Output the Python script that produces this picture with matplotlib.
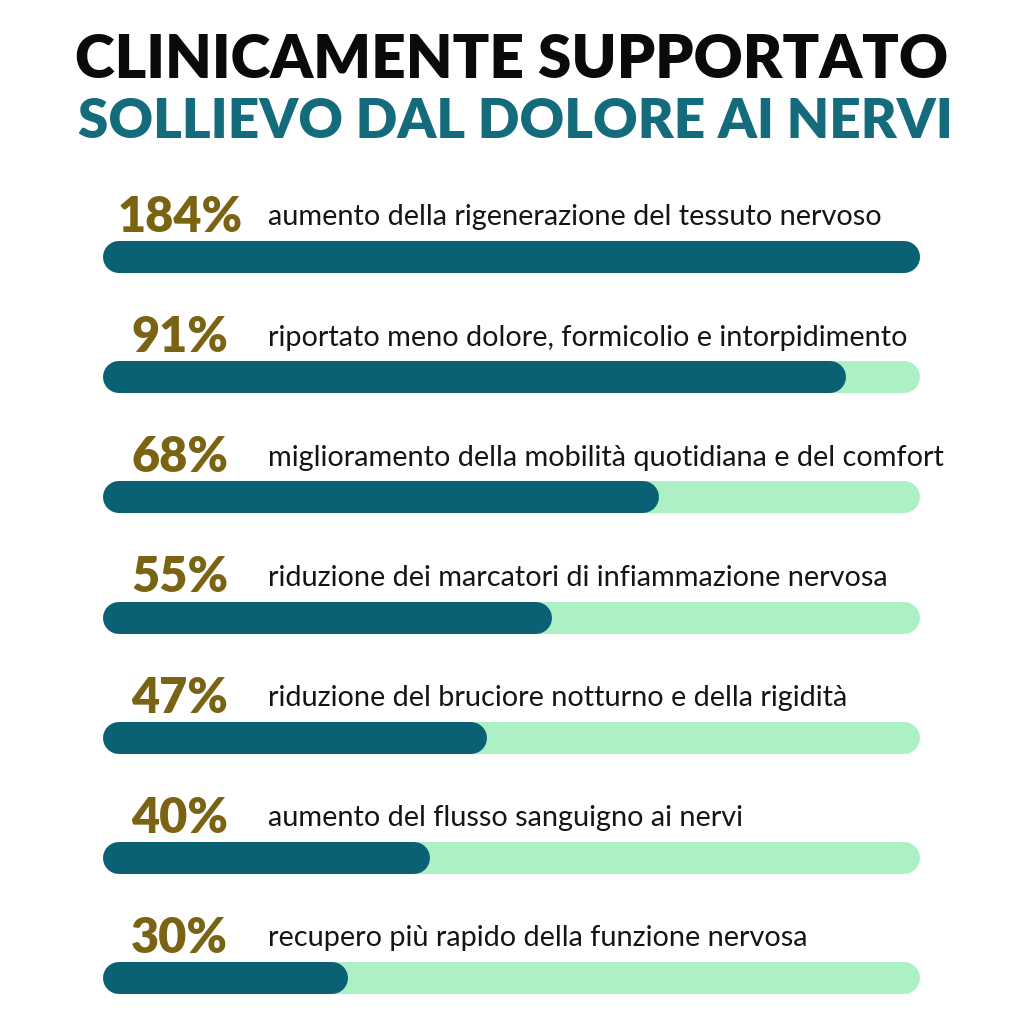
import matplotlib
matplotlib.use("Agg")
import matplotlib.pyplot as plt

title_line1 = "CLINICAMENTE SUPPORTATO"
title_line2 = "SOLLIEVO DAL DOLORE AI NERVI"
values = [184, 91, 68, 55, 47, 40, 30]
pct_labels = ["184%", "91%", "68%", "55%", "47%", "40%", "30%"]
descriptions = [
    "aumento della rigenerazione del tessuto nervoso",
    "riportato meno dolore, formicolio e intorpidimento",
    "miglioramento della mobilità quotidiana e del comfort",
    "riduzione dei marcatori di infiammazione nervosa",
    "riduzione del bruciore notturno e della rigidità",
    "aumento del flusso sanguigno ai nervi",
    "recupero più rapido della funzione nervosa",
]

DARK = "#0b6174"
LIGHT = "#aef0c5"
GOLD = "#7b6314"
TEAL_TITLE = "#146b7b"

W = 1024
fig = plt.figure(figsize=(10.24, 10.24), dpi=100, facecolor="white")
ax = fig.add_axes([0, 0, 1, 1])
ax.set_facecolor("white")

# pixel mapping: x_px = 103 + 8.17*v ; y_px = 257 + 120.17*i
sx, ox = 8.17, 103
sy, oy = 120.17, 257
ax.set_xlim(-ox / sx, (W - ox) / sx)
ax.set_ylim((W - oy) / sy, -oy / sy)
ax.axis("off")

bar_px = 32
lw = bar_px * 72 / 100
r = (bar_px / 2) / sx

for i, (v, pl, d) in enumerate(zip(values, pct_labels, descriptions)):
    ax.plot([r, 100 - r], [i, i], color=LIGHT, lw=lw, solid_capstyle="round", zorder=1)
    f = min(v, 100)
    ax.plot([r, max(f - r, r)], [i, i], color=DARK, lw=lw, solid_capstyle="round", zorder=2)
    ax.text(9.4, i - 0.33, pl, ha="center", va="center", fontsize=35,
            fontfamily="Lato", fontweight="heavy", color=GOLD)
    ax.text(20.2, i - 0.33, d, ha="left", va="center", fontsize=20.8,
            fontfamily="Lato", fontweight="normal", color="#151515")

fig.text(0.5, 1 - 61 / W, title_line1, ha="center", va="center", fontsize=43.5,
         fontfamily="Lato", fontweight="heavy", color="#0a0a0a")
fig.text(0.503, 1 - 122 / W, title_line2, ha="center", va="center", fontsize=39.5,
         fontfamily="Lato", fontweight="heavy", color=TEAL_TITLE)

fig.savefig("out.png", dpi=100, facecolor="white")
